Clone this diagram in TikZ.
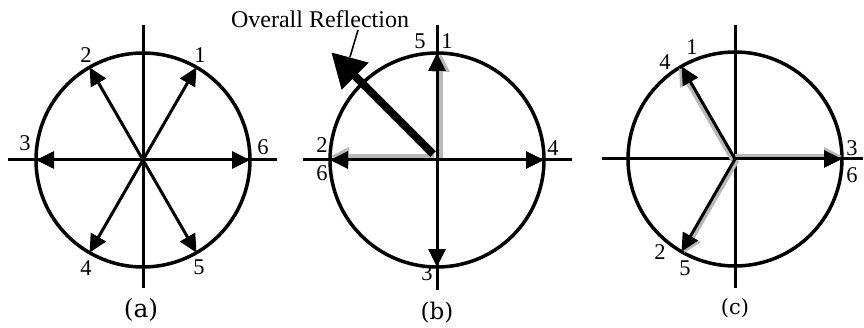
\documentclass[tikz,border=0pt]{standalone}
\usepackage{fontspec}
\newfontfamily\numfont{Liberation Serif}
\newfontfamily\tagfont{DejaVu Serif}
\usetikzlibrary{arrows.meta,calc}

\begin{document}
\begin{tikzpicture}[
    x=1pt, y=1pt,
    % 圆周样式
    ring/.style={line width=3.5pt},
    % 坐标轴样式
    axis/.style={line width=3pt},
    % 黑色矢量箭头
    vec/.style={line width=3pt, -{Triangle[length=18pt, width=17pt]}},
    % 灰色阴影箭头（重合的矢量）
    shade/.style={line width=3.5pt, draw=black!28, -{Triangle[length=18pt, width=17pt, fill=black!28]}},
    % 总反射粗箭头
    bigvec/.style={line width=8pt, -{Triangle[length=34pt, width=36pt]}},
    % 标注引线
    note/.style={line width=1.6pt},
    % 编号字体
    num/.style={font=\numfont\fontsize{22.5}{22.5}\selectfont, inner sep=0pt},
    % 子图标题字体
    tag/.style={font=\tagfont\fontsize{25}{25}\selectfont, inner sep=0pt}
]

    % 0. 固定画布大小
    \useasboundingbox (0, 0) rectangle (864, 327);

    % 1. 关键坐标
    \def\rad{107}         % 圆半径
    \coordinate (Ao) at (143, 167);   % 子图 (a) 圆心
    \coordinate (Bo) at (437, 167);   % 子图 (b) 圆心
    \coordinate (Co) at (735, 168);   % 子图 (c) 圆心

    % ===== 子图 (a) =====
    % 2. 圆周和坐标轴
    \draw[ring] (Ao) circle (\rad);
    \draw[axis] (8, 167) -- (277, 167);
    \draw[axis] (143, 302) -- (143, 39);

    % 3. 六个矢量
    \coordinate (A1) at ($(Ao)+(60:\rad)$);
    \coordinate (A2) at ($(Ao)+(120:\rad)$);
    \coordinate (A3) at ($(Ao)+(180:\rad)$);
    \coordinate (A4) at ($(Ao)+(240:\rad)$);
    \coordinate (A5) at ($(Ao)+(300:\rad)$);
    \coordinate (A6) at ($(Ao)+(0:\rad)$);
    \draw[vec] (Ao) -- (A1);
    \draw[vec] (Ao) -- (A2);
    \draw[vec] (Ao) -- (A3);
    \draw[vec] (Ao) -- (A4);
    \draw[vec] (Ao) -- (A5);
    \draw[vec] (Ao) -- (A6);

    % 4. 编号
    \node[num] (la1) at (200, 272) {1};
    \node[num] (la2) at (86, 272)  {2};
    \node[num] (la3) at (25, 184)  {3};
    \node[num] (la4) at (86, 59)   {4};
    \node[num] (la5) at (199, 60)  {5};
    \node[num] (la6) at (263, 180) {6};
    \node[tag] (ta) at (141, 17) {(a)};

    % ===== 子图 (b) =====
    % 5. 圆周和坐标轴
    \draw[ring] (Bo) circle (\rad);
    \draw[axis] (303, 167) -- (572, 167);
    \draw[axis] (437, 302) -- (437, 37);

    % 6. 灰色阴影（重合矢量）
    \coordinate (Bs1) at (441, 169);
    \coordinate (Bt1) at (441, 273);
    \coordinate (Bs2) at (434, 171);
    \coordinate (Bt2) at (331, 171);
    \draw[shade] (Bs1) -- (Bt1);
    \draw[shade] (Bs2) -- (Bt2);

    % 7. 四个矢量
    \coordinate (B1) at ($(Bo)+(90:\rad)$);
    \coordinate (B2) at ($(Bo)+(180:\rad)$);
    \coordinate (B3) at ($(Bo)+(270:\rad)$);
    \coordinate (B4) at ($(Bo)+(0:\rad)$);
    \draw[vec] (Bo) -- (B1);
    \draw[vec] (Bo) -- (B2);
    \draw[vec] (Bo) -- (B3);
    \draw[vec] (Bo) -- (B4);

    % 8. 总反射箭头及标注
    \coordinate (Br) at (433, 173);
    \coordinate (Brt) at ($(Br)+(135:144)$);
    \draw[bigvec] (Br) -- (Brt);
    \node[font=\numfont\fontsize{24}{24}\selectfont, inner sep=0pt] (ovl) at (320, 308) {Overall Reflection};
    \coordinate (ntop) at (358, 297);
    \coordinate (nend) at (350, 270);
    \draw[note] (ntop) -- (nend);

    % 9. 编号
    \node[num] (lb5) at (420, 286) {5};
    \node[num] (lb1) at (447, 286) {1};
    \node[num] (lb4) at (553, 179) {4};
    \node[num] (lb2) at (322, 182) {2};
    \node[num] (lb6) at (322, 154) {6};
    \node[num] (lb3) at (427, 54)  {3};
    \node[tag, font=\tagfont\fontsize{23}{23}\selectfont] (tb) at (437, 14) {(b)};

    % ===== 子图 (c) =====
    % 10. 圆周和坐标轴
    \draw[ring] (Co) circle (\rad);
    \draw[axis] (602, 168) -- (863, 168);
    \draw[axis] (735, 302) -- (735, 39);

    % 11. 三个矢量（灰色阴影在下）
    \coordinate (C1) at ($(Co)+(120:\rad)$);
    \coordinate (C2) at ($(Co)+(240:\rad)$);
    \coordinate (C3) at ($(Co)+(0:\rad)$);
    \draw[shade] ($(Co)+(-2.6,-1.5)$) -- ($(C1)+(-2.6,-1.5)$);
    \draw[shade] ($(Co)+(0,3)$) -- ($(C3)+(0,3)$);
    \draw[shade] ($(Co)+(2.6,-1.5)$) -- ($(C2)+(2.6,-1.5)$);
    \draw[vec] (Co) -- (C1);
    \draw[vec] (Co) -- (C2);
    \draw[vec] (Co) -- (C3);

    % 12. 编号
    \node[num] (lc1) at (692, 280) {1};
    \node[num] (lc4) at (665, 265) {4};
    \node[num] (lc2) at (660, 75)  {2};
    \node[num] (lc5) at (685, 59)  {5};
    \node[num] (lc3) at (852, 179) {3};
    \node[num] (lc6) at (852, 152) {6};
    \node[tag, font=\tagfont\fontsize{21}{21}\selectfont] (tc) at (735, 19) {(c)};

\end{tikzpicture}
\end{document}
